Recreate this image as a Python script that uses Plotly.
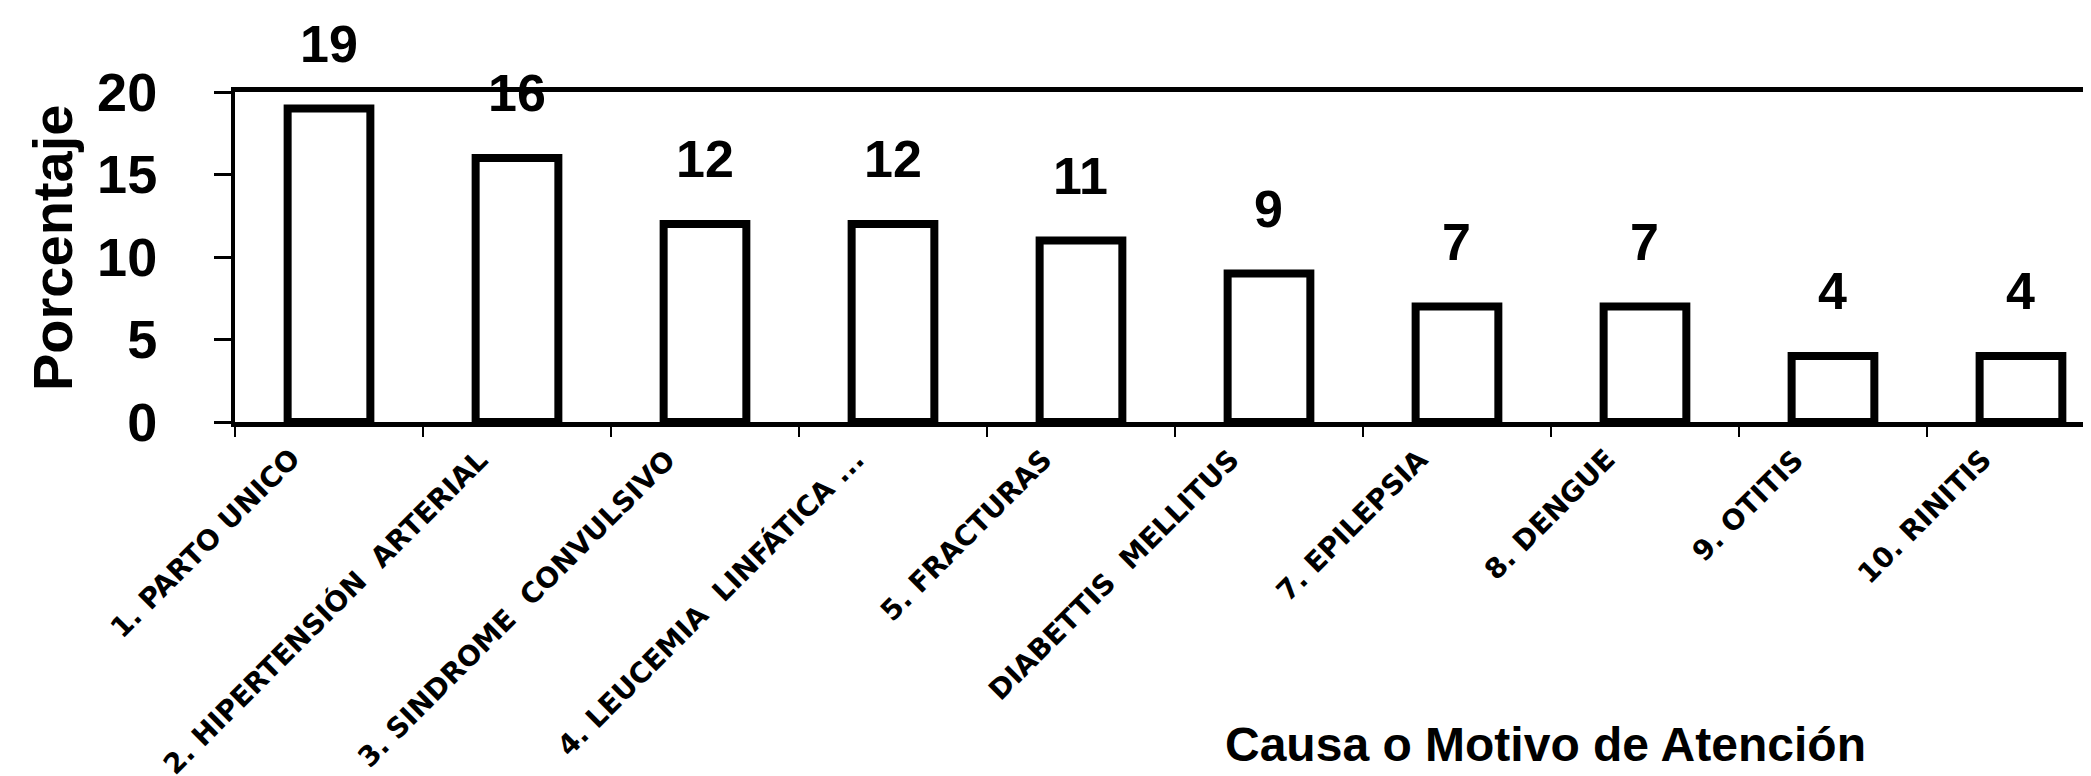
import plotly.graph_objects as go

categories = [
    "1. PARTO UNICO",
    "2. HIPERTENSIÓN\u00a0\u00a0ARTERIAL",
    "3. SINDROME\u00a0\u00a0CONVULSIVO",
    "4. LEUCEMIA\u00a0\u00a0LINFÁTICA ...",
    "5. FRACTURAS",
    "DIABETTIS\u00a0\u00a0MELLITUS",
    "7. EPILEPSIA",
    "8. DENGUE",
    "9. OTITIS",
    "10. RINITIS",
]
values = [19, 16, 12, 12, 11, 9, 7, 7, 4, 4]
y_ticks = [0, 5, 10, 15, 20]

W, H = 2091, 776
L, R, T, B = 227, 0, 84, 362

fig = go.Figure()
fig.add_trace(go.Bar(
    x=categories, y=values,
    width=0.44,
    marker=dict(color="white", line=dict(color="black", width=8)),
    hoverinfo="skip",
))

for c, v in zip(categories, values):
    fig.add_annotation(
        x=c, y=v, xref="x", yref="y", text=str(v), showarrow=False,
        yanchor="bottom", yshift=34,
        font=dict(family="Liberation Sans, Arial, sans-serif", size=52, color="black", weight="bold"),
    )
    fig.add_annotation(
        x=c, y=0, xref="x", yref="y", text=c, showarrow=False,
        textangle=-45, xanchor="right", yanchor="top",
        xshift=-20, yshift=-18,
        font=dict(family="DejaVu Sans, sans-serif", size=28, color="black", weight="bold"),
    )

fig.add_annotation(
    x=(1537 - L) / (W - L - R), y=(T + (H - T - B) - 736) / (H - T - B),
    xref="paper", yref="paper", text="<b>Causa o Motivo de Atención</b>", showarrow=False,
    xanchor="center", yanchor="middle",
    font=dict(family="Liberation Sans, Arial, sans-serif", size=48, color="black"),
)
fig.add_annotation(
    x=(44 - L) / (W - L - R), y=(T + (H - T - B) - 240) / (H - T - B),
    xref="paper", yref="paper",
    text="<b>Porcentaje</b>", textangle=-90, showarrow=False,
    xanchor="center", yanchor="middle",
    font=dict(family="Liberation Sans, Arial, sans-serif", size=56, color="black"),
)

fig.update_layout(
    width=W, height=H,
    margin=dict(l=L, r=R, t=T, b=B, pad=0),
    paper_bgcolor="white", plot_bgcolor="white",
    showlegend=False,
    xaxis=dict(
        type="category", range=[-0.5, 9.415],
        showline=True, linecolor="black", linewidth=5, mirror=True,
        ticks="outside", tickson="boundaries", ticklen=10, tickwidth=2, tickcolor="black",
        showticklabels=False, showgrid=False, zeroline=False,
    ),
    yaxis=dict(
        range=[0, 20], tickvals=y_ticks,
        showline=True, linecolor="black", linewidth=4,
        ticks="outside", ticklen=17, tickwidth=3, tickcolor="black",
        ticklabelstandoff=46,
        showgrid=False, zeroline=False,
        tickfont=dict(family="Liberation Sans, Arial, sans-serif", size=54, color="black", weight="bold"),
    ),
)

fig.write_html("out.html")
